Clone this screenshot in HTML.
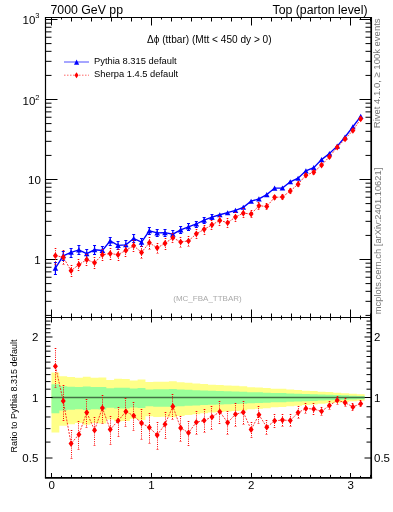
<!DOCTYPE html><html><head><meta charset="utf-8"><style>html,body{margin:0;padding:0;background:#fff;width:393px;height:512px;overflow:hidden}</style></head><body><svg width="393" height="512" viewBox="0 0 393 512" style="display:block;will-change:transform;font-family:'Liberation Sans',sans-serif">
<rect width="393" height="512" fill="#fff"/>
<path d="M51.50,372.57 L59.33,372.57 L59.33,376.17 L67.16,376.17 L67.16,377.10 L74.98,377.10 L74.98,377.72 L82.81,377.72 L82.81,376.73 L90.64,376.73 L90.64,377.75 L98.47,377.75 L98.47,377.57 L106.30,377.57 L106.30,379.90 L114.12,379.90 L114.12,378.84 L121.95,378.84 L121.95,378.98 L129.78,378.98 L129.78,380.44 L137.61,380.44 L137.61,379.60 L145.44,379.60 L145.44,382.08 L153.26,382.08 L153.26,381.65 L161.09,381.65 L161.09,381.69 L168.92,381.69 L168.92,381.37 L176.75,381.37 L176.75,382.27 L184.58,382.27 L184.58,382.86 L192.41,382.86 L192.41,383.41 L200.23,383.41 L200.23,384.10 L208.06,384.10 L208.06,384.65 L215.89,384.65 L215.89,385.05 L223.72,385.05 L223.72,385.38 L231.55,385.38 L231.55,385.75 L239.37,385.75 L239.37,386.23 L247.20,386.23 L247.20,387.13 L255.03,387.13 L255.03,387.45 L262.86,387.45 L262.86,388.02 L270.69,388.02 L270.69,388.82 L278.51,388.82 L278.51,388.84 L286.34,388.84 L286.34,389.54 L294.17,389.54 L294.17,389.93 L302.00,389.93 L302.00,390.66 L309.83,390.66 L309.83,390.96 L317.65,390.96 L317.65,391.65 L325.48,391.65 L325.48,392.12 L333.31,392.12 L333.31,392.65 L341.14,392.65 L341.14,393.23 L348.97,393.23 L348.97,393.81 L356.79,393.81 L356.79,394.31 L364.62,394.31 L364.62,400.81 L356.79,400.81 L356.79,401.36 L348.97,401.36 L348.97,401.99 L341.14,401.99 L341.14,402.64 L333.31,402.64 L333.31,403.24 L325.48,403.24 L325.48,403.77 L317.65,403.77 L317.65,404.57 L309.83,404.57 L309.83,404.92 L302.00,404.92 L302.00,405.79 L294.17,405.79 L294.17,406.26 L286.34,406.26 L286.34,407.12 L278.51,407.12 L278.51,407.14 L270.69,407.14 L270.69,408.14 L262.86,408.14 L262.86,408.87 L255.03,408.87 L255.03,409.27 L247.20,409.27 L247.20,410.44 L239.37,410.44 L239.37,411.08 L231.55,411.08 L231.55,411.57 L223.72,411.57 L223.72,412.03 L215.89,412.03 L215.89,412.58 L208.06,412.58 L208.06,413.33 L200.23,413.33 L200.23,414.31 L192.41,414.31 L192.41,415.11 L184.58,415.11 L184.58,415.96 L176.75,415.96 L176.75,417.29 L168.92,417.29 L168.92,416.82 L161.09,416.82 L161.09,416.88 L153.26,416.88 L153.26,416.24 L145.44,416.24 L145.44,420.05 L137.61,420.05 L137.61,418.72 L129.78,418.72 L129.78,421.04 L121.95,421.04 L121.95,421.27 L114.12,421.27 L114.12,419.57 L106.30,419.57 L106.30,423.38 L98.47,423.38 L98.47,423.07 L90.64,423.07 L90.64,424.81 L82.81,424.81 L82.81,423.12 L74.98,423.12 L74.98,424.17 L67.16,424.17 L67.16,425.80 L59.33,425.80 L59.33,432.52 L51.50,432.52 Z" fill="#ffff88"/>
<path d="M51.50,384.15 L59.33,384.15 L59.33,386.18 L67.16,386.18 L67.16,386.71 L74.98,386.71 L74.98,387.05 L82.81,387.05 L82.81,386.50 L90.64,386.50 L90.64,387.07 L98.47,387.07 L98.47,386.97 L106.30,386.97 L106.30,388.26 L114.12,388.26 L114.12,387.67 L121.95,387.67 L121.95,387.75 L129.78,387.75 L129.78,388.55 L137.61,388.55 L137.61,388.09 L145.44,388.09 L145.44,389.45 L153.26,389.45 L153.26,389.21 L161.09,389.21 L161.09,389.24 L168.92,389.24 L168.92,389.07 L176.75,389.07 L176.75,389.55 L184.58,389.55 L184.58,389.87 L192.41,389.87 L192.41,390.17 L200.23,390.17 L200.23,390.55 L208.06,390.55 L208.06,390.84 L215.89,390.84 L215.89,391.05 L223.72,391.05 L223.72,391.23 L231.55,391.23 L231.55,391.43 L239.37,391.43 L239.37,391.69 L247.20,391.69 L247.20,392.16 L255.03,392.16 L255.03,392.33 L262.86,392.33 L262.86,392.63 L270.69,392.63 L270.69,393.05 L278.51,393.05 L278.51,393.06 L286.34,393.06 L286.34,393.43 L294.17,393.43 L294.17,393.63 L302.00,393.63 L302.00,394.01 L309.83,394.01 L309.83,394.17 L317.65,394.17 L317.65,394.52 L325.48,394.52 L325.48,394.77 L333.31,394.77 L333.31,395.04 L341.14,395.04 L341.14,395.34 L348.97,395.34 L348.97,395.63 L356.79,395.63 L356.79,395.89 L364.62,395.89 L364.62,399.14 L356.79,399.14 L356.79,399.41 L348.97,399.41 L348.97,399.71 L341.14,399.71 L341.14,400.03 L333.31,400.03 L333.31,400.32 L325.48,400.32 L325.48,400.58 L317.65,400.58 L317.65,400.96 L309.83,400.96 L309.83,401.13 L302.00,401.13 L302.00,401.55 L294.17,401.55 L294.17,401.77 L286.34,401.77 L286.34,402.18 L278.51,402.18 L278.51,402.18 L270.69,402.18 L270.69,402.66 L262.86,402.66 L262.86,403.00 L255.03,403.00 L255.03,403.19 L247.20,403.19 L247.20,403.73 L239.37,403.73 L239.37,404.03 L231.55,404.03 L231.55,404.25 L223.72,404.25 L223.72,404.46 L215.89,404.46 L215.89,404.71 L208.06,404.71 L208.06,405.06 L200.23,405.06 L200.23,405.50 L192.41,405.50 L192.41,405.86 L184.58,405.86 L184.58,406.24 L176.75,406.24 L176.75,406.84 L168.92,406.84 L168.92,406.63 L161.09,406.63 L161.09,406.65 L153.26,406.65 L153.26,406.37 L145.44,406.37 L145.44,408.05 L137.61,408.05 L137.61,407.47 L129.78,407.47 L129.78,408.48 L121.95,408.48 L121.95,408.58 L114.12,408.58 L114.12,407.84 L106.30,407.84 L106.30,409.48 L98.47,409.48 L98.47,409.35 L90.64,409.35 L90.64,410.09 L82.81,410.09 L82.81,409.37 L74.98,409.37 L74.98,409.82 L67.16,409.82 L67.16,410.51 L59.33,410.51 L59.33,413.27 L51.50,413.27 Z" fill="#99ff99"/>
<line x1="51.50" y1="397.5" x2="364.62" y2="397.5" stroke="#000" stroke-opacity="0.55" stroke-width="1.7"/>
<path d="M45.5,477.5 V17.5 H371.5 M45.5,317.5 H371.5" fill="none" stroke="#000" stroke-width="1.2"/>
<line x1="371.2" y1="16.9" x2="371.2" y2="478.0" stroke="#000" stroke-width="1.7"/>
<line x1="44.9" y1="477.9" x2="372.1" y2="477.9" stroke="#000" stroke-width="1.8"/>
<path d="M51.50,17.50L51.50,25.50M51.50,317.50L51.50,309.50M51.50,317.50L51.50,322.50M51.50,477.50L51.50,473.00M61.50,17.50L61.50,19.50M61.50,317.50L61.50,315.50M61.50,317.50L61.50,319.50M61.50,477.50L61.50,475.90M71.50,17.50L71.50,21.50M71.50,317.50L71.50,313.50M71.50,317.50L71.50,320.50M71.50,477.50L71.50,474.90M81.50,17.50L81.50,19.50M81.50,317.50L81.50,315.50M81.50,317.50L81.50,319.50M81.50,477.50L81.50,475.90M91.50,17.50L91.50,21.50M91.50,317.50L91.50,313.50M91.50,317.50L91.50,320.50M91.50,477.50L91.50,474.90M101.50,17.50L101.50,19.50M101.50,317.50L101.50,315.50M101.50,317.50L101.50,319.50M101.50,477.50L101.50,475.90M111.50,17.50L111.50,21.50M111.50,317.50L111.50,313.50M111.50,317.50L111.50,320.50M111.50,477.50L111.50,474.90M121.50,17.50L121.50,19.50M121.50,317.50L121.50,315.50M121.50,317.50L121.50,319.50M121.50,477.50L121.50,475.90M131.50,17.50L131.50,21.50M131.50,317.50L131.50,313.50M131.50,317.50L131.50,320.50M131.50,477.50L131.50,474.90M141.50,17.50L141.50,19.50M141.50,317.50L141.50,315.50M141.50,317.50L141.50,319.50M141.50,477.50L141.50,475.90M151.50,17.50L151.50,25.50M151.50,317.50L151.50,309.50M151.50,317.50L151.50,322.50M151.50,477.50L151.50,473.00M161.50,17.50L161.50,19.50M161.50,317.50L161.50,315.50M161.50,317.50L161.50,319.50M161.50,477.50L161.50,475.90M171.50,17.50L171.50,21.50M171.50,317.50L171.50,313.50M171.50,317.50L171.50,320.50M171.50,477.50L171.50,474.90M181.50,17.50L181.50,19.50M181.50,317.50L181.50,315.50M181.50,317.50L181.50,319.50M181.50,477.50L181.50,475.90M191.50,17.50L191.50,21.50M191.50,317.50L191.50,313.50M191.50,317.50L191.50,320.50M191.50,477.50L191.50,474.90M201.50,17.50L201.50,19.50M201.50,317.50L201.50,315.50M201.50,317.50L201.50,319.50M201.50,477.50L201.50,475.90M211.50,17.50L211.50,21.50M211.50,317.50L211.50,313.50M211.50,317.50L211.50,320.50M211.50,477.50L211.50,474.90M221.50,17.50L221.50,19.50M221.50,317.50L221.50,315.50M221.50,317.50L221.50,319.50M221.50,477.50L221.50,475.90M231.50,17.50L231.50,21.50M231.50,317.50L231.50,313.50M231.50,317.50L231.50,320.50M231.50,477.50L231.50,474.90M241.50,17.50L241.50,19.50M241.50,317.50L241.50,315.50M241.50,317.50L241.50,319.50M241.50,477.50L241.50,475.90M251.50,17.50L251.50,25.50M251.50,317.50L251.50,309.50M251.50,317.50L251.50,322.50M251.50,477.50L251.50,473.00M261.50,17.50L261.50,19.50M261.50,317.50L261.50,315.50M261.50,317.50L261.50,319.50M261.50,477.50L261.50,475.90M271.50,17.50L271.50,21.50M271.50,317.50L271.50,313.50M271.50,317.50L271.50,320.50M271.50,477.50L271.50,474.90M281.50,17.50L281.50,19.50M281.50,317.50L281.50,315.50M281.50,317.50L281.50,319.50M281.50,477.50L281.50,475.90M291.50,17.50L291.50,21.50M291.50,317.50L291.50,313.50M291.50,317.50L291.50,320.50M291.50,477.50L291.50,474.90M300.50,17.50L300.50,19.50M300.50,317.50L300.50,315.50M300.50,317.50L300.50,319.50M300.50,477.50L300.50,475.90M310.50,17.50L310.50,21.50M310.50,317.50L310.50,313.50M310.50,317.50L310.50,320.50M310.50,477.50L310.50,474.90M320.50,17.50L320.50,19.50M320.50,317.50L320.50,315.50M320.50,317.50L320.50,319.50M320.50,477.50L320.50,475.90M330.50,17.50L330.50,21.50M330.50,317.50L330.50,313.50M330.50,317.50L330.50,320.50M330.50,477.50L330.50,474.90M340.50,17.50L340.50,19.50M340.50,317.50L340.50,315.50M340.50,317.50L340.50,319.50M340.50,477.50L340.50,475.90M350.50,17.50L350.50,25.50M350.50,317.50L350.50,309.50M350.50,317.50L350.50,322.50M350.50,477.50L350.50,473.00M360.50,17.50L360.50,19.50M360.50,317.50L360.50,315.50M360.50,317.50L360.50,319.50M360.50,477.50L360.50,475.90M370.50,17.50L370.50,21.50M370.50,317.50L370.50,313.50M370.50,317.50L370.50,320.50M370.50,477.50L370.50,474.90M45.50,315.42L51.50,315.42M371.50,315.42L365.50,315.42M45.50,301.33L51.50,301.33M371.50,301.33L365.50,301.33M45.50,291.34L51.50,291.34M371.50,291.34L365.50,291.34M45.50,283.58L51.50,283.58M371.50,283.58L365.50,283.58M45.50,277.25L51.50,277.25M371.50,277.25L365.50,277.25M45.50,271.89L51.50,271.89M371.50,271.89L365.50,271.89M45.50,267.25L51.50,267.25M371.50,267.25L365.50,267.25M45.50,263.16L51.50,263.16M371.50,263.16L365.50,263.16M45.50,259.50L57.50,259.50M371.50,259.50L359.50,259.50M45.50,235.42L51.50,235.42M371.50,235.42L365.50,235.42M45.50,221.33L51.50,221.33M371.50,221.33L365.50,221.33M45.50,211.34L51.50,211.34M371.50,211.34L365.50,211.34M45.50,203.58L51.50,203.58M371.50,203.58L365.50,203.58M45.50,197.25L51.50,197.25M371.50,197.25L365.50,197.25M45.50,191.89L51.50,191.89M371.50,191.89L365.50,191.89M45.50,187.25L51.50,187.25M371.50,187.25L365.50,187.25M45.50,183.16L51.50,183.16M371.50,183.16L365.50,183.16M45.50,179.50L57.50,179.50M371.50,179.50L359.50,179.50M45.50,155.42L51.50,155.42M371.50,155.42L365.50,155.42M45.50,141.33L51.50,141.33M371.50,141.33L365.50,141.33M45.50,131.34L51.50,131.34M371.50,131.34L365.50,131.34M45.50,123.58L51.50,123.58M371.50,123.58L365.50,123.58M45.50,117.25L51.50,117.25M371.50,117.25L365.50,117.25M45.50,111.89L51.50,111.89M371.50,111.89L365.50,111.89M45.50,107.25L51.50,107.25M371.50,107.25L365.50,107.25M45.50,103.16L51.50,103.16M371.50,103.16L365.50,103.16M45.50,99.50L57.50,99.50M371.50,99.50L359.50,99.50M45.50,75.42L51.50,75.42M371.50,75.42L365.50,75.42M45.50,61.33L51.50,61.33M371.50,61.33L365.50,61.33M45.50,51.34L51.50,51.34M371.50,51.34L365.50,51.34M45.50,43.58L51.50,43.58M371.50,43.58L365.50,43.58M45.50,37.25L51.50,37.25M371.50,37.25L365.50,37.25M45.50,31.89L51.50,31.89M371.50,31.89L365.50,31.89M45.50,27.25L51.50,27.25M371.50,27.25L365.50,27.25M45.50,23.16L51.50,23.16M371.50,23.16L365.50,23.16M45.50,19.50L57.50,19.50M371.50,19.50L359.50,19.50M45.50,477.49L50.50,477.49M371.50,477.49L366.50,477.49M45.50,458.01L52.50,458.01M371.50,458.01L364.50,458.01M45.50,442.09L50.50,442.09M371.50,442.09L366.50,442.09M45.50,428.64L50.50,428.64M371.50,428.64L366.50,428.64M45.50,416.98L50.50,416.98M371.50,416.98L366.50,416.98M45.50,406.70L50.50,406.70M371.50,406.70L366.50,406.70M45.50,397.50L52.50,397.50M371.50,397.50L364.50,397.50M45.50,389.18L50.50,389.18M371.50,389.18L366.50,389.18M45.50,381.58L50.50,381.58M371.50,381.58L366.50,381.58M45.50,374.60L50.50,374.60M371.50,374.60L366.50,374.60M45.50,368.13L50.50,368.13M371.50,368.13L366.50,368.13M45.50,362.11L50.50,362.11M371.50,362.11L366.50,362.11M45.50,356.47L50.50,356.47M371.50,356.47L366.50,356.47M45.50,351.18L50.50,351.18M371.50,351.18L366.50,351.18M45.50,346.19L50.50,346.19M371.50,346.19L366.50,346.19M45.50,341.47L50.50,341.47M371.50,341.47L366.50,341.47M45.50,336.99L52.50,336.99M371.50,336.99L364.50,336.99M45.50,332.73L50.50,332.73M371.50,332.73L366.50,332.73M45.50,328.67L50.50,328.67M371.50,328.67L366.50,328.67M45.50,324.79L50.50,324.79M371.50,324.79L366.50,324.79M45.50,321.08L50.50,321.08M371.50,321.08L366.50,321.08M45.50,317.51L50.50,317.51M371.50,317.51L366.50,317.51" stroke="#000" stroke-width="1" fill="none"/>
<polyline points="55.41,268.10 63.24,255.80 71.07,252.30 78.90,249.90 86.73,253.70 94.55,249.80 102.38,250.50 110.21,240.90 118.04,245.40 125.87,244.80 133.69,238.50 141.52,242.20 149.35,230.80 157.18,232.90 165.01,232.70 172.83,234.20 180.66,229.85 188.49,226.90 196.32,224.00 204.15,220.20 211.98,217.10 219.80,214.75 227.63,212.70 235.46,210.40 243.29,207.30 251.12,201.20 258.94,198.90 266.77,194.60 274.60,188.10 282.43,188.00 290.26,181.80 298.08,178.20 305.91,170.85 313.74,167.60 321.57,159.60 329.40,153.60 337.22,146.15 345.05,137.00 352.88,126.75 360.71,116.40" fill="none" stroke="#0000ff" stroke-width="1.35"/>
<path d="M55.41,262.79V274.37M53.91,262.5h3M53.91,274.5h3M63.24,251.30V260.98M61.74,251.5h3M61.74,260.5h3M71.07,248.00V257.20M69.57,248.5h3M69.57,257.5h3M78.90,245.74V254.63M77.40,245.5h3M77.40,254.5h3M86.73,249.32V258.71M85.23,249.5h3M85.23,258.5h3M94.55,245.65V254.52M93.05,245.5h3M93.05,254.5h3M102.38,246.31V255.27M100.88,246.5h3M100.88,255.5h3M110.21,237.22V245.02M108.71,237.5h3M108.71,245.5h3M118.04,241.49V249.81M116.54,241.5h3M116.54,249.5h3M125.87,240.92V249.17M124.37,240.5h3M124.37,249.5h3M133.69,234.94V242.47M132.19,234.5h3M132.19,242.5h3M141.52,238.45V246.40M140.02,238.5h3M140.02,246.5h3M149.35,227.60V234.33M147.85,227.5h3M147.85,234.5h3M157.18,229.60V236.54M155.68,229.5h3M155.68,236.5h3M165.01,229.41V236.33M163.51,229.5h3M163.51,236.5h3M172.83,230.84V237.92M171.33,230.5h3M171.33,237.5h3M180.66,226.69V233.33M179.16,226.5h3M179.16,233.5h3M188.49,223.86V230.23M186.99,223.5h3M186.99,230.5h3M196.32,221.08V227.18M194.82,221.5h3M194.82,227.5h3M204.15,217.43V223.21M202.65,217.5h3M202.65,223.5h3M211.98,214.45V219.97M210.48,214.5h3M210.48,219.5h3" stroke="#0000ff" stroke-width="1.2" fill="none"/>
<path d="M52.61,270.65L55.41,265.55L58.21,270.65ZM60.44,258.35L63.24,253.25L66.04,258.35ZM68.27,254.85L71.07,249.75L73.87,254.85ZM76.10,252.45L78.90,247.35L81.70,252.45ZM83.93,256.25L86.73,251.15L89.53,256.25ZM91.75,252.35L94.55,247.25L97.35,252.35ZM99.58,253.05L102.38,247.95L105.18,253.05ZM107.41,243.45L110.21,238.35L113.01,243.45ZM115.24,247.95L118.04,242.85L120.84,247.95ZM123.07,247.35L125.87,242.25L128.67,247.35ZM130.89,241.05L133.69,235.95L136.49,241.05ZM138.72,244.75L141.52,239.65L144.32,244.75ZM146.55,233.35L149.35,228.25L152.15,233.35ZM154.38,235.45L157.18,230.35L159.98,235.45ZM162.21,235.25L165.01,230.15L167.81,235.25ZM170.03,236.75L172.83,231.65L175.63,236.75ZM177.86,232.40L180.66,227.30L183.46,232.40ZM185.69,229.45L188.49,224.35L191.29,229.45ZM193.52,226.55L196.32,221.45L199.12,226.55ZM201.35,222.75L204.15,217.65L206.95,222.75ZM209.18,219.65L211.98,214.55L214.78,219.65ZM217.00,217.30L219.80,212.20L222.60,217.30ZM224.83,215.25L227.63,210.15L230.43,215.25ZM232.66,212.95L235.46,207.85L238.26,212.95ZM240.49,209.85L243.29,204.75L246.09,209.85ZM248.32,203.75L251.12,198.65L253.92,203.75ZM256.14,201.45L258.94,196.35L261.74,201.45ZM263.97,197.15L266.77,192.05L269.57,197.15ZM271.80,190.65L274.60,185.55L277.40,190.65ZM279.63,190.55L282.43,185.45L285.23,190.55ZM287.46,184.35L290.26,179.25L293.06,184.35ZM295.28,180.75L298.08,175.65L300.88,180.75ZM303.11,173.40L305.91,168.30L308.71,173.40ZM310.94,170.15L313.74,165.05L316.54,170.15ZM318.77,162.15L321.57,157.05L324.37,162.15ZM326.60,156.15L329.40,151.05L332.20,156.15ZM334.42,148.70L337.22,143.60L340.02,148.70ZM342.25,139.55L345.05,134.45L347.85,139.55ZM350.08,129.30L352.88,124.20L355.68,129.30ZM357.91,118.95L360.71,113.85L363.51,118.95Z" fill="#0000ff"/>
<polyline points="55.41,255.64 63.24,257.19 71.07,270.65 78.90,264.63 86.73,259.63 94.55,262.81 102.38,254.68 110.21,253.60 118.04,254.67 125.87,250.41 133.69,245.74 141.52,252.39 149.35,242.74 157.18,247.87 165.01,243.37 172.83,237.74 180.66,241.95 188.49,240.95 196.32,233.83 204.15,229.35 211.98,224.86 219.80,220.40 227.63,222.69 235.46,217.09 243.29,213.15 251.12,213.98 258.94,205.79 266.77,206.42 274.60,197.37 282.43,197.00 290.26,190.95 298.08,184.21 305.91,175.23 313.74,172.18 321.57,165.09 329.40,156.78 337.22,147.26 345.05,139.03 352.88,130.49 360.71,118.87" fill="none" stroke="#ff0000" stroke-opacity="0.8" stroke-width="1" stroke-dasharray="2,1.2"/>
<path d="M55.50,248V265M63.50,250V265M71.50,265V277M78.50,259V271M86.50,254V266M94.50,257V269M102.50,249V261M110.50,248V260M118.50,249V261M125.50,245V257M133.50,240V252M141.50,246V259M149.50,237V250M157.50,243V254M165.50,238V250M172.50,233V243M180.50,237V248M188.50,236V247M196.50,229V239M204.50,225V235M211.50,220V230M219.50,216V226M227.50,218V228M235.50,212V222M243.50,208V218M251.50,210V218M258.50,202V210M266.50,203V210M274.50,195V200M282.50,194V200M290.50,188V194M298.50,181V187M305.50,173V178M313.50,170V175M321.50,163V167M329.50,155V159M337.50,145V149M345.50,137V141M352.50,129V132M360.50,117V121" stroke="#ff0000" stroke-width="1" stroke-dasharray="1,1.2" fill="none"/>
<path d="M54.30,248.5h2.4M54.30,264.5h2.4M62.30,250.5h2.4M62.30,264.5h2.4M70.30,265.5h2.4M70.30,276.5h2.4M77.30,259.5h2.4M77.30,270.5h2.4M85.30,254.5h2.4M85.30,265.5h2.4M93.30,257.5h2.4M93.30,268.5h2.4M101.30,249.5h2.4M101.30,260.5h2.4M109.30,248.5h2.4M109.30,259.5h2.4M117.30,249.5h2.4M117.30,260.5h2.4M124.30,245.5h2.4M124.30,256.5h2.4M132.30,240.5h2.4M132.30,251.5h2.4M140.30,246.5h2.4M140.30,258.5h2.4M148.30,237.5h2.4M148.30,249.5h2.4M156.30,243.5h2.4M156.30,253.5h2.4M164.30,238.5h2.4M164.30,249.5h2.4M171.30,233.5h2.4M171.30,242.5h2.4M179.30,237.5h2.4M179.30,247.5h2.4M187.30,236.5h2.4M187.30,246.5h2.4M195.30,229.5h2.4M195.30,238.5h2.4M203.30,225.5h2.4M203.30,234.5h2.4M210.30,220.5h2.4M210.30,229.5h2.4M218.30,216.5h2.4M218.30,225.5h2.4M226.30,218.5h2.4M226.30,227.5h2.4M234.30,212.5h2.4M234.30,221.5h2.4M242.30,208.5h2.4M242.30,217.5h2.4M250.30,210.5h2.4M250.30,217.5h2.4M257.30,202.5h2.4M257.30,209.5h2.4M265.30,203.5h2.4M265.30,209.5h2.4M273.30,195.5h2.4M273.30,199.5h2.4M281.30,194.5h2.4M281.30,199.5h2.4M289.30,188.5h2.4M289.30,193.5h2.4M297.30,181.5h2.4M297.30,186.5h2.4M304.30,173.5h2.4M304.30,177.5h2.4M312.30,170.5h2.4M312.30,174.5h2.4M320.30,163.5h2.4M320.30,166.5h2.4M328.30,155.5h2.4M328.30,158.5h2.4M336.30,145.5h2.4M336.30,148.5h2.4M344.30,137.5h2.4M344.30,140.5h2.4M351.30,129.5h2.4M351.30,131.5h2.4M359.30,117.5h2.4M359.30,120.5h2.4" stroke="#ff0000" stroke-opacity="0.45" stroke-width="1" fill="none"/>
<path d="M55.41,252.34L57.91,255.64L55.41,258.94L52.91,255.64ZM63.24,253.89L65.74,257.19L63.24,260.49L60.74,257.19ZM71.07,267.35L73.57,270.65L71.07,273.95L68.57,270.65ZM78.90,261.33L81.40,264.63L78.90,267.93L76.40,264.63ZM86.73,256.33L89.23,259.63L86.73,262.93L84.23,259.63ZM94.55,259.51L97.05,262.81L94.55,266.11L92.05,262.81ZM102.38,251.38L104.88,254.68L102.38,257.98L99.88,254.68ZM110.21,250.30L112.71,253.60L110.21,256.90L107.71,253.60ZM118.04,251.37L120.54,254.67L118.04,257.97L115.54,254.67ZM125.87,247.11L128.37,250.41L125.87,253.71L123.37,250.41ZM133.69,242.44L136.19,245.74L133.69,249.04L131.19,245.74ZM141.52,249.09L144.02,252.39L141.52,255.69L139.02,252.39ZM149.35,239.44L151.85,242.74L149.35,246.04L146.85,242.74ZM157.18,244.57L159.68,247.87L157.18,251.17L154.68,247.87ZM165.01,240.07L167.51,243.37L165.01,246.67L162.51,243.37ZM172.83,234.44L175.33,237.74L172.83,241.04L170.33,237.74ZM180.66,238.65L183.16,241.95L180.66,245.25L178.16,241.95ZM188.49,237.65L190.99,240.95L188.49,244.25L185.99,240.95ZM196.32,230.53L198.82,233.83L196.32,237.13L193.82,233.83ZM204.15,226.05L206.65,229.35L204.15,232.65L201.65,229.35ZM211.98,221.56L214.48,224.86L211.98,228.16L209.48,224.86ZM219.80,217.10L222.30,220.40L219.80,223.70L217.30,220.40ZM227.63,219.39L230.13,222.69L227.63,225.99L225.13,222.69ZM235.46,213.79L237.96,217.09L235.46,220.39L232.96,217.09ZM243.29,209.85L245.79,213.15L243.29,216.45L240.79,213.15ZM251.12,210.68L253.62,213.98L251.12,217.28L248.62,213.98ZM258.94,202.49L261.44,205.79L258.94,209.09L256.44,205.79ZM266.77,203.12L269.27,206.42L266.77,209.72L264.27,206.42ZM274.60,194.07L277.10,197.37L274.60,200.67L272.10,197.37ZM282.43,193.70L284.93,197.00L282.43,200.30L279.93,197.00ZM290.26,187.65L292.76,190.95L290.26,194.25L287.76,190.95ZM298.08,180.91L300.58,184.21L298.08,187.51L295.58,184.21ZM305.91,171.93L308.41,175.23L305.91,178.53L303.41,175.23ZM313.74,168.88L316.24,172.18L313.74,175.48L311.24,172.18ZM321.57,161.79L324.07,165.09L321.57,168.39L319.07,165.09ZM329.40,153.48L331.90,156.78L329.40,160.08L326.90,156.78ZM337.22,143.96L339.72,147.26L337.22,150.56L334.72,147.26ZM345.05,135.73L347.55,139.03L345.05,142.33L342.55,139.03ZM352.88,127.19L355.38,130.49L352.88,133.79L350.38,130.49ZM360.71,115.57L363.21,118.87L360.71,122.17L358.21,118.87Z" fill="#ff0000"/>
<polyline points="55.41,366.20 63.24,401.00 71.07,443.60 78.90,434.50 86.73,412.40 94.55,430.20 102.38,408.00 110.21,429.40 118.04,420.80 125.87,411.60 133.69,415.70 141.52,423.10 149.35,427.50 157.18,435.10 165.01,424.30 172.83,406.40 180.66,427.90 188.49,432.80 196.32,422.20 204.15,420.50 211.98,417.00 219.80,411.70 227.63,422.60 235.46,414.30 243.29,412.20 251.12,429.60 258.94,414.80 266.77,427.20 274.60,420.80 282.43,420.10 290.26,420.50 298.08,412.60 305.91,408.50 313.74,409.00 321.57,411.30 329.40,405.50 337.22,400.30 345.05,402.60 352.88,406.90 360.71,403.70" fill="none" stroke="#ff0000" stroke-opacity="0.8" stroke-width="1" stroke-dasharray="2,1.2"/>
<path d="M55.50,348V388M63.50,385V421M71.50,430V459M78.50,421V450M86.50,399V428M94.50,417V446M102.50,395V424M110.50,416V445M118.50,407V437M125.50,398V427M133.50,402V431M141.50,409V440M149.50,413V444M157.50,422V450M165.50,412V439M172.50,394V420M180.50,416V442M188.50,421V446M196.50,411V435M204.50,409V433M211.50,406V430M219.50,401V424M227.50,411V435M235.50,403V427M243.50,401V425M251.50,422V438M258.50,406V424M266.50,420V435M274.50,414V428M282.50,414V427M290.50,414V427M298.50,406V419M305.50,403V414M313.50,403V415M321.50,407V416M329.50,401V410M337.50,396V405M345.50,398V407M352.50,403V411M360.50,400V407" stroke="#ff0000" stroke-width="1" stroke-dasharray="1,1.2" fill="none"/>
<path d="M54.30,348.5h2.4M54.30,387.5h2.4M62.30,385.5h2.4M62.30,420.5h2.4M70.30,430.5h2.4M70.30,458.5h2.4M77.30,421.5h2.4M77.30,449.5h2.4M85.30,399.5h2.4M85.30,427.5h2.4M93.30,417.5h2.4M93.30,445.5h2.4M101.30,395.5h2.4M101.30,423.5h2.4M109.30,416.5h2.4M109.30,444.5h2.4M117.30,407.5h2.4M117.30,436.5h2.4M124.30,398.5h2.4M124.30,426.5h2.4M132.30,402.5h2.4M132.30,430.5h2.4M140.30,409.5h2.4M140.30,439.5h2.4M148.30,413.5h2.4M148.30,443.5h2.4M156.30,422.5h2.4M156.30,449.5h2.4M164.30,412.5h2.4M164.30,438.5h2.4M171.30,394.5h2.4M171.30,419.5h2.4M179.30,416.5h2.4M179.30,441.5h2.4M187.30,421.5h2.4M187.30,445.5h2.4M195.30,411.5h2.4M195.30,434.5h2.4M203.30,409.5h2.4M203.30,432.5h2.4M210.30,406.5h2.4M210.30,429.5h2.4M218.30,401.5h2.4M218.30,423.5h2.4M226.30,411.5h2.4M226.30,434.5h2.4M234.30,403.5h2.4M234.30,426.5h2.4M242.30,401.5h2.4M242.30,424.5h2.4M250.30,422.5h2.4M250.30,437.5h2.4M257.30,406.5h2.4M257.30,423.5h2.4M265.30,420.5h2.4M265.30,434.5h2.4M273.30,414.5h2.4M273.30,427.5h2.4M281.30,414.5h2.4M281.30,426.5h2.4M289.30,414.5h2.4M289.30,426.5h2.4M297.30,406.5h2.4M297.30,418.5h2.4M304.30,403.5h2.4M304.30,413.5h2.4M312.30,403.5h2.4M312.30,414.5h2.4M320.30,407.5h2.4M320.30,415.5h2.4M328.30,401.5h2.4M328.30,409.5h2.4M336.30,396.5h2.4M336.30,404.5h2.4M344.30,398.5h2.4M344.30,406.5h2.4M351.30,403.5h2.4M351.30,410.5h2.4M359.30,400.5h2.4M359.30,406.5h2.4" stroke="#ff0000" stroke-opacity="0.45" stroke-width="1" fill="none"/>
<path d="M55.41,362.90L57.91,366.20L55.41,369.50L52.91,366.20ZM63.24,397.70L65.74,401.00L63.24,404.30L60.74,401.00ZM71.07,440.30L73.57,443.60L71.07,446.90L68.57,443.60ZM78.90,431.20L81.40,434.50L78.90,437.80L76.40,434.50ZM86.73,409.10L89.23,412.40L86.73,415.70L84.23,412.40ZM94.55,426.90L97.05,430.20L94.55,433.50L92.05,430.20ZM102.38,404.70L104.88,408.00L102.38,411.30L99.88,408.00ZM110.21,426.10L112.71,429.40L110.21,432.70L107.71,429.40ZM118.04,417.50L120.54,420.80L118.04,424.10L115.54,420.80ZM125.87,408.30L128.37,411.60L125.87,414.90L123.37,411.60ZM133.69,412.40L136.19,415.70L133.69,419.00L131.19,415.70ZM141.52,419.80L144.02,423.10L141.52,426.40L139.02,423.10ZM149.35,424.20L151.85,427.50L149.35,430.80L146.85,427.50ZM157.18,431.80L159.68,435.10L157.18,438.40L154.68,435.10ZM165.01,421.00L167.51,424.30L165.01,427.60L162.51,424.30ZM172.83,403.10L175.33,406.40L172.83,409.70L170.33,406.40ZM180.66,424.60L183.16,427.90L180.66,431.20L178.16,427.90ZM188.49,429.50L190.99,432.80L188.49,436.10L185.99,432.80ZM196.32,418.90L198.82,422.20L196.32,425.50L193.82,422.20ZM204.15,417.20L206.65,420.50L204.15,423.80L201.65,420.50ZM211.98,413.70L214.48,417.00L211.98,420.30L209.48,417.00ZM219.80,408.40L222.30,411.70L219.80,415.00L217.30,411.70ZM227.63,419.30L230.13,422.60L227.63,425.90L225.13,422.60ZM235.46,411.00L237.96,414.30L235.46,417.60L232.96,414.30ZM243.29,408.90L245.79,412.20L243.29,415.50L240.79,412.20ZM251.12,426.30L253.62,429.60L251.12,432.90L248.62,429.60ZM258.94,411.50L261.44,414.80L258.94,418.10L256.44,414.80ZM266.77,423.90L269.27,427.20L266.77,430.50L264.27,427.20ZM274.60,417.50L277.10,420.80L274.60,424.10L272.10,420.80ZM282.43,416.80L284.93,420.10L282.43,423.40L279.93,420.10ZM290.26,417.20L292.76,420.50L290.26,423.80L287.76,420.50ZM298.08,409.30L300.58,412.60L298.08,415.90L295.58,412.60ZM305.91,405.20L308.41,408.50L305.91,411.80L303.41,408.50ZM313.74,405.70L316.24,409.00L313.74,412.30L311.24,409.00ZM321.57,408.00L324.07,411.30L321.57,414.60L319.07,411.30ZM329.40,402.20L331.90,405.50L329.40,408.80L326.90,405.50ZM337.22,397.00L339.72,400.30L337.22,403.60L334.72,400.30ZM345.05,399.30L347.55,402.60L345.05,405.90L342.55,402.60ZM352.88,403.60L355.38,406.90L352.88,410.20L350.38,406.90ZM360.71,400.40L363.21,403.70L360.71,407.00L358.21,403.70Z" fill="#ff0000"/>
<text x="50.5" y="14" font-size="12.3">7000 GeV pp</text>
<text x="367.5" y="14" font-size="12.3" text-anchor="end">Top (parton level)</text>
<text x="147" y="43" font-size="10.1">Δϕ (ttbar) (Mtt &lt; 450 dy &gt; 0)</text>
<line x1="64" y1="62" x2="89" y2="62" stroke="#0000ff" stroke-opacity="0.7" stroke-width="1"/>
<path d="M74.00,64.80L76.60,59.60L79.20,64.80Z" fill="#0000ff"/>
<line x1="64" y1="75.2" x2="89" y2="75.2" stroke="#ff0000" stroke-opacity="0.6" stroke-width="1" stroke-dasharray="1.5,1.5"/>
<path d="M76.50,72.30L78.50,75.30L76.50,78.30L74.50,75.30Z" fill="#ff0000"/>
<text x="94" y="64.4" font-size="9.35">Pythia 8.315 default</text>
<text x="94" y="77" font-size="9.35">Sherpa 1.4.5 default</text>
<text x="207.5" y="300.9" font-size="8" fill="#aaa" text-anchor="middle">(MC_FBA_TTBAR)</text>
<text x="35.4" y="24.2" font-size="11.5" text-anchor="end">10</text><text x="35.2" y="18.4" font-size="7.5">3</text>
<text x="35.4" y="105.3" font-size="11.5" text-anchor="end">10</text><text x="35.2" y="99.8" font-size="7.5">2</text>
<text x="40.8" y="184.2" font-size="11.5" text-anchor="end">10</text>
<text x="40.6" y="264.2" font-size="11.5" text-anchor="end">1</text>
<text x="38.3" y="341.2" font-size="11.5" text-anchor="end">2</text>
<text x="374" y="341.2" font-size="11.5">2</text>
<text x="38.3" y="401.8" font-size="11.5" text-anchor="end">1</text>
<text x="374" y="401.8" font-size="11.5">1</text>
<text x="38.3" y="462.2" font-size="11.5" text-anchor="end">0.5</text>
<text x="374" y="462.2" font-size="11.5">0.5</text>
<text x="51.80" y="489" font-size="11.5" text-anchor="middle">0</text>
<text x="151.47" y="489" font-size="11.5" text-anchor="middle">1</text>
<text x="251.14" y="489" font-size="11.5" text-anchor="middle">2</text>
<text x="350.81" y="489" font-size="11.5" text-anchor="middle">3</text>
<text transform="translate(17.2,396) rotate(-90)" font-size="9" text-anchor="middle">Ratio to Pythia 8.315 default</text>
<text transform="translate(380.3,128.2) rotate(-90)" font-size="9.5" fill="#777">Rivet 4.1.0, ≥ 100k events</text>
<text transform="translate(381,314.2) rotate(-90)" font-size="9.35" fill="#777">mcplots.cern.ch [arXiv:2401.10621]</text>
</svg></body></html>
